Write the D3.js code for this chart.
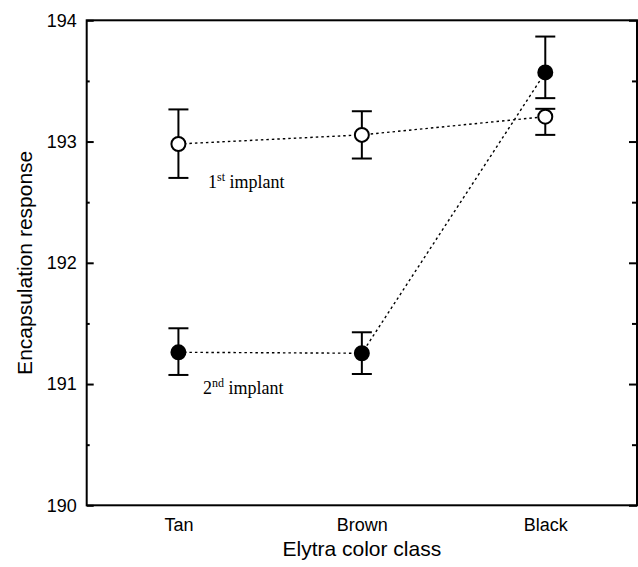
<!DOCTYPE html>
<html>
<head>
<meta charset="utf-8">
<script src="https://cdn.jsdelivr.net/npm/d3@7"></script>
<style>
  body { margin: 0; background: #fff; }
  svg text { fill: #000; }
</style>
</head>
<body>
<div id="chart"></div>
<script>
// data
var categories = ['Tan', 'Brown', 'Black'];
var firstMean = [192.98, 193.055, 193.205];
var firstLow = [192.70, 192.86, 193.055];
var firstHigh = [193.265, 193.25, 193.27];
var secondMean = [191.262, 191.254, 193.57];
var secondLow = [191.075, 191.083, 193.358];
var secondHigh = [191.46, 191.427, 193.866];
var yTicks = [190, 191, 192, 193, 194];
var yMinor = [190.5, 191.5, 192.5, 193.5];

var W = 638, H = 567;
// plot box (note: "top" is taken by window.top)
var pLeft = 86.7, pRight = 637, pTop = 20.3, pBottom = 505.3;
var sans = 'Arial, "Liberation Sans", sans-serif';

var svg = d3.select('#chart').append('svg')
    .attr('width', W)
    .attr('height', H);

var x = d3.scalePoint()
    .domain(categories)
    .range([pLeft, pRight])
    .padding(0.5);

var y = d3.scaleLinear()
    .domain([190, 194])
    .range([pBottom, pTop]);

function series(mean, low, high) {
    return categories.map(function(c, i) {
        return { cat: c, mean: mean[i], low: low[i], high: high[i] };
    });
}
var s1 = series(firstMean, firstLow, firstHigh);
var s2 = series(secondMean, secondLow, secondHigh);

// frame
svg.append('rect')
    .attr('x', pLeft).attr('y', pTop)
    .attr('width', pRight - pLeft).attr('height', pBottom - pTop)
    .attr('fill', 'none').attr('stroke', '#000').attr('stroke-width', 2);

// left axis, ticks inward
var yAxis = d3.axisLeft(y).tickValues(yTicks).tickSize(-7).tickPadding(10).tickFormat(d3.format('d'));
var gy = svg.append('g').attr('transform', 'translate(' + pLeft + ',0)').call(yAxis);
gy.select('.domain').remove();
gy.selectAll('line').attr('stroke-width', 2);
gy.selectAll('text').attr('font-family', sans).attr('font-size', 18);

var gyMinor = svg.append('g').attr('transform', 'translate(' + pLeft + ',0)')
    .call(d3.axisLeft(y).tickValues(yMinor).tickSize(-3).tickFormat(''));
gyMinor.select('.domain').remove();
gyMinor.selectAll('line').attr('stroke-width', 2);

// right axis, ticks inward
var gr = svg.append('g').attr('transform', 'translate(' + pRight + ',0)')
    .call(d3.axisRight(y).tickValues(yTicks).tickSize(-8).tickFormat(''));
gr.select('.domain').remove();
gr.selectAll('line').attr('stroke-width', 2);
var grMinor = svg.append('g').attr('transform', 'translate(' + pRight + ',0)')
    .call(d3.axisRight(y).tickValues(yMinor).tickSize(-5).tickFormat(''));
grMinor.select('.domain').remove();
grMinor.selectAll('line').attr('stroke-width', 2);

// bottom axis labels
var gx = svg.append('g').attr('transform', 'translate(0,' + pBottom + ')')
    .call(d3.axisBottom(x).tickSize(0).tickPadding(13));
gx.select('.domain').remove();
gx.selectAll('text').attr('font-family', sans).attr('font-size', 18);

// axis titles
svg.append('text')
    .attr('x', (pLeft + pRight) / 2).attr('y', 556)
    .attr('text-anchor', 'middle')
    .attr('font-family', sans).attr('font-size', 21)
    .text('Elytra color class');

svg.append('text')
    .attr('transform', 'translate(32,' + (pTop + pBottom) / 2 + ') rotate(-90)')
    .attr('text-anchor', 'middle')
    .attr('font-family', sans).attr('font-size', 21)
    .text('Encapsulation response');

// dotted connecting lines
var line = d3.line()
    .x(function(d) { return x(d.cat); })
    .y(function(d) { return y(d.mean); });

[s1, s2].forEach(function(s) {
    svg.append('path')
        .datum(s)
        .attr('d', line)
        .attr('fill', 'none')
        .attr('stroke', '#000')
        .attr('stroke-width', 1.4)
        .attr('stroke-dasharray', '2.5,3');
});

// error bars + markers
function drawPoints(s, fill) {
    var g = svg.append('g');
    var pts = g.selectAll('g').data(s).enter().append('g');
    pts.append('line')
        .attr('x1', function(d) { return x(d.cat); })
        .attr('x2', function(d) { return x(d.cat); })
        .attr('y1', function(d) { return y(d.low); })
        .attr('y2', function(d) { return y(d.high); })
        .attr('stroke', '#000').attr('stroke-width', 2);
    ['low', 'high'].forEach(function(k) {
        pts.append('line')
            .attr('x1', function(d) { return x(d.cat) - 10; })
            .attr('x2', function(d) { return x(d.cat) + 10; })
            .attr('y1', function(d) { return y(d[k]); })
            .attr('y2', function(d) { return y(d[k]); })
            .attr('stroke', '#000').attr('stroke-width', 2);
    });
    pts.append('circle')
        .attr('cx', function(d) { return x(d.cat); })
        .attr('cy', function(d) { return y(d.mean); })
        .attr('r', 7)
        .attr('fill', fill)
        .attr('stroke', '#000').attr('stroke-width', 2);
}
drawPoints(s1, '#fff');
drawPoints(s2, '#000');

// series labels with superscripts
function seriesLabel(xp, yp, num, sup) {
    var t = svg.append('text')
        .attr('x', xp).attr('y', yp)
        .attr('font-family', '"Liberation Serif", "Times New Roman", serif')
        .attr('font-size', 18);
    t.append('tspan').text(num);
    t.append('tspan').attr('dy', -7).attr('font-size', 12).text(sup);
    t.append('tspan').attr('dy', 7).text(' implant');
}
seriesLabel(208, 188, '1', 'st');
seriesLabel(203, 394, '2', 'nd');
</script>
</body>
</html>
